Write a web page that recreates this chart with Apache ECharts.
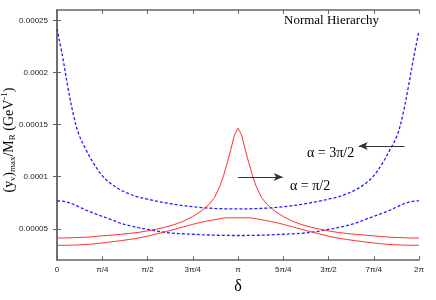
<!DOCTYPE html>
<html>
<head>
<meta charset="utf-8">
<script src="https://cdn.jsdelivr.net/npm/echarts@6/dist/echarts.min.js"></script>
<style>html,body{margin:0;padding:0;background:#fff}#c{width:436px;height:300px}</style>
</head>
<body>
<div id="c"></div>
<script>
// delta in units of pi
const delta = [0,0.03,0.06,0.09,0.12,0.16,0.2,0.25,0.3,0.35,0.4,0.45,0.5,0.55,0.6,0.65,0.7,0.75,0.8,0.84,0.87,0.9,0.92,0.94,0.96,0.98,1.0,
  1.02,1.04,1.06,1.08,1.1,1.13,1.16,1.2,1.25,1.3,1.35,1.4,1.45,1.5,1.55,1.6,1.65,1.7,1.75,1.8,1.84,1.88,1.91,1.94,1.97,2.0];
const blueUpper = [24.2e-5,21.6e-5,18.6e-5,16.0e-5,14.1e-5,12.6e-5,11.35e-5,10.1e-5,9.3e-5,8.75e-5,8.35e-5,8.05e-5,7.85e-5,7.65e-5,7.5e-5,7.35e-5,7.22e-5,7.12e-5,7.04e-5,6.99e-5,6.96e-5,6.94e-5,6.93e-5,6.92e-5,6.91e-5,6.91e-5,6.91e-5,
  6.91e-5,6.91e-5,6.92e-5,6.93e-5,6.94e-5,6.96e-5,6.99e-5,7.04e-5,7.12e-5,7.22e-5,7.35e-5,7.5e-5,7.65e-5,7.85e-5,8.05e-5,8.35e-5,8.75e-5,9.3e-5,10.1e-5,11.35e-5,12.6e-5,14.0e-5,15.9e-5,18.5e-5,21.4e-5,24.0e-5];
const blueLower = [7.69e-5,7.65e-5,7.55e-5,7.36e-5,7.12e-5,6.8e-5,6.52e-5,6.2e-5,5.88e-5,5.55e-5,5.3e-5,5.11e-5,4.95e-5,4.79e-5,4.66e-5,4.57e-5,4.52e-5,4.48e-5,4.44e-5,4.41e-5,4.39e-5,4.38e-5,4.37e-5,4.37e-5,4.36e-5,4.36e-5,4.36e-5,
  4.36e-5,4.36e-5,4.37e-5,4.37e-5,4.38e-5,4.39e-5,4.41e-5,4.44e-5,4.48e-5,4.52e-5,4.57e-5,4.66e-5,4.79e-5,4.95e-5,5.11e-5,5.3e-5,5.55e-5,5.88e-5,6.2e-5,6.52e-5,6.8e-5,7.12e-5,7.36e-5,7.55e-5,7.65e-5,7.69e-5];
const redUpper = [4.12e-5,4.12e-5,4.13e-5,4.15e-5,4.17e-5,4.2e-5,4.25e-5,4.33e-5,4.4e-5,4.47e-5,4.56e-5,4.66e-5,4.8e-5,4.97e-5,5.17e-5,5.42e-5,5.74e-5,6.18e-5,6.75e-5,7.35e-5,8.0e-5,9.1e-5,10.1e-5,11.3e-5,12.6e-5,14.0e-5,14.66e-5,
  14.0e-5,12.6e-5,11.3e-5,10.1e-5,9.1e-5,8.0e-5,7.35e-5,6.75e-5,6.18e-5,5.74e-5,5.42e-5,5.17e-5,4.97e-5,4.8e-5,4.66e-5,4.56e-5,4.47e-5,4.4e-5,4.33e-5,4.25e-5,4.2e-5,4.17e-5,4.15e-5,4.13e-5,4.12e-5,4.12e-5];
const redLower = [3.42e-5,3.42e-5,3.43e-5,3.44e-5,3.46e-5,3.5e-5,3.55e-5,3.64e-5,3.75e-5,3.86e-5,3.98e-5,4.12e-5,4.3e-5,4.51e-5,4.73e-5,4.96e-5,5.2e-5,5.43e-5,5.64e-5,5.78e-5,5.88e-5,5.97e-5,6.03e-5,6.06e-5,6.06e-5,6.06e-5,6.06e-5,
  6.06e-5,6.06e-5,6.06e-5,6.03e-5,5.97e-5,5.88e-5,5.78e-5,5.64e-5,5.43e-5,5.2e-5,4.96e-5,4.73e-5,4.51e-5,4.3e-5,4.12e-5,3.98e-5,3.86e-5,3.75e-5,3.64e-5,3.55e-5,3.5e-5,3.46e-5,3.44e-5,3.43e-5,3.42e-5,3.42e-5];
const xTickLabels = ['0','π/4','π/2','3π/4','π','5π/4','3π/2','7π/4','2π'];
const yTickValues = [0.00005,0.0001,0.00015,0.0002,0.00025];
const yTickLabels = ['0.00005','0.0001','0.00015','0.0002','0.00025'];

const axisCol = '#666';
const pair = v => delta.map((d,i)=>[d, v[i]]);
const chart = echarts.init(document.getElementById('c'), null, {renderer:'canvas'});
const baseX = {type:'value', min:0, max:2, interval:0.25,
  axisLine:{show:true, lineStyle:{color:axisCol, width:1.5}},
  axisTick:{show:true, inside:true, length:4, lineStyle:{color:axisCol, width:1}},
  splitLine:{show:false}};
const baseY = {type:'value', min:0.00002, max:0.00026,
  axisLine:{show:true, lineStyle:{color:axisCol, width:1.5}},
  axisTick:{show:true, inside:true, length:4, customValues:yTickValues, lineStyle:{color:axisCol, width:1}},
  splitLine:{show:false}};
const arrowLine = (x1,y1,x2,y2) => [{coord:[x1,y1], symbol:'none'},{coord:[x2,y2], symbol:'arrow', symbolSize:[6,9]}];
chart.setOption({
  animation:false,
  grid:{left:57, right:17, top:10, bottom:27, containLabel:false},
  xAxis:[
    Object.assign({}, baseX, {position:'bottom',
      axisLabel:{show:true, fontFamily:'Liberation Sans', fontSize:8, color:'#222', margin:6,
        formatter:v=>xTickLabels[Math.round(v/0.25)]},
      name:'δ', nameLocation:'middle', nameGap:17,
      nameTextStyle:{fontFamily:'Liberation Serif', fontSize:16, color:'#000'}}),
    Object.assign({}, baseX, {position:'top', axisLabel:{show:false}})
  ],
  yAxis:[
    Object.assign({}, baseY, {position:'left',
      axisLabel:{show:true, fontFamily:'Liberation Sans', fontSize:8, color:'#222', margin:9,
        customValues:yTickValues, formatter:v=>{const i=yTickValues.findIndex(t=>Math.abs(t-v)<1e-9);return i>=0?yTickLabels[i]:'';}}}),
    Object.assign({}, baseY, {position:'right', axisLabel:{show:false}})
  ],
  series:[
    {type:'line', data:pair(blueUpper), showSymbol:false, smooth:0.35, lineStyle:{color:'#2020ff', width:1.3, type:[3,2]}},
    {type:'line', data:pair(blueLower), showSymbol:false, smooth:0.35, lineStyle:{color:'#2020ff', width:1.3, type:[3,2]}},
    {type:'line', data:pair(redUpper), showSymbol:false, lineStyle:{color:'#ff3030', width:1}},
    {type:'line', data:pair(redLower), showSymbol:false, smooth:0.3, lineStyle:{color:'#ff3030', width:1},
      markLine:{silent:true, symbol:['none','arrow'], label:{show:false},
        lineStyle:{color:'#333', width:1, type:'solid'},
        data:[arrowLine(1.92,0.0001296,1.667,0.0001296), arrowLine(1.0,0.0000998,1.247,0.0000998)]}}
  ],
  graphic:[
    {type:'text', x:284, y:21, style:{text:'Normal Hierarchy', fontFamily:'Liberation Serif', fontSize:13, fill:'#000', verticalAlign:'middle'}},
    {type:'text', x:307, y:153, style:{text:'α = 3π/2', fontFamily:'Liberation Serif', fontSize:14, fill:'#000', verticalAlign:'middle'}},
    {type:'text', x:290, y:186, style:{text:'α = π/2', fontFamily:'Liberation Serif', fontSize:14, fill:'#000', verticalAlign:'middle'}},
    {type:'text', x:9, y:140, rotation:Math.PI/2, style:{
      text:'{n|(y}{s|ν}{n|)}{s|max}{n|/M}{s|R}{n| (GeV}{p|-1}{n|)}',
      align:'center', verticalAlign:'middle', fill:'#000',
      rich:{
        n:{fontFamily:'Liberation Serif', fontSize:14, lineHeight:18},
        s:{fontFamily:'Liberation Serif', fontSize:9, lineHeight:10, padding:[8,0,0,0]},
        p:{fontFamily:'Liberation Serif', fontSize:9, lineHeight:10, padding:[0,0,8,0]}
      }}}
  ]
});
</script>
</body>
</html>
